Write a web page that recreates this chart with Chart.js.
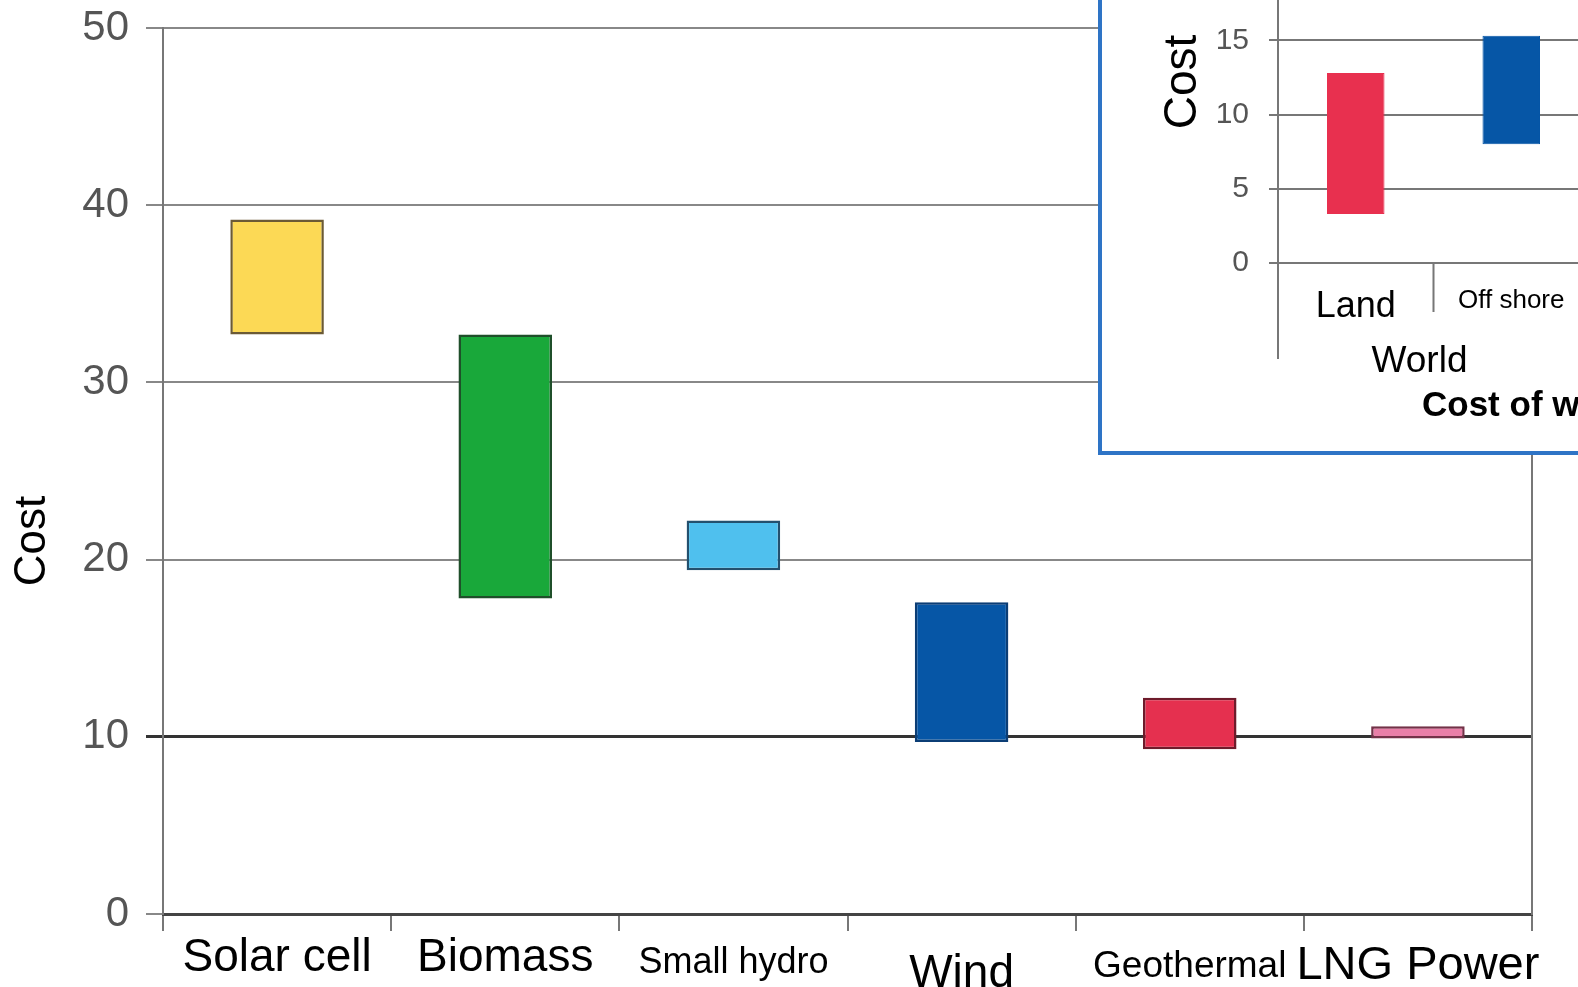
<!DOCTYPE html>
<html>
<head>
<meta charset="utf-8">
<title>Cost comparison</title>
<script src="https://cdn.jsdelivr.net/npm/chart.js@4.4.0/dist/chart.umd.min.js"></script>
<style>
    html, body { margin: 0; padding: 0; background: #fff; overflow: hidden; }
    #wrap { position: relative; width: 1578px; height: 987px; overflow: hidden; }
    #mainChart { position: absolute; left: 0; top: 0; }
    #inset { position: absolute; left: 1098px; top: -80px; width: 700px; height: 527px;
             border: 4px solid #2e74c6; background: #fff; }
</style>
</head>
<body>
<div id="wrap">
    <canvas id="mainChart" width="1578" height="987"></canvas>
    <div id="inset"><canvas id="windChart" width="700" height="527"></canvas></div>
</div>
<script>
// main chart data
const categories = ['Solar cell', 'Biomass', 'Small hydro', 'Wind', 'Geothermal', 'LNG Power'];
const costLow  = [32.7, 17.8, 19.4, 9.7, 9.3, 9.9];
const costHigh = [39.2, 32.7, 22.2, 17.6, 12.2, 10.6];
const barColors = ['#fcd955', '#19a83a', '#4fc0ee', '#0656a6', '#e5304f', '#e97fa8'];
const barEdges  = ['#6b5a35', '#1f4f2a', '#23506e', '#0b3d75', '#6e1b2b', '#733248'];
const labelSizes = [46, 46, 36, 46, 37, 47];
// line heights in px, so the labels sit on roughly the same baseline as the picture
const labelLines = [55, 55, 65, 86, 72, 71];

// inset (wind) data
const windCategories = ['Land', 'Off shore'];
const windLow  = [3.3, 8.0];
const windHigh = [12.8, 15.3];
const windColors = ['#e8304f', '#0656a6'];
const windLabelSizes = [36, 26];

Chart.defaults.font.family = '"Liberation Sans", Arial, sans-serif';

// y axis titles are not centred on the axis, so they are drawn here
const mainText = {
    id: 'mainText',
    afterDraw(chart) {
        const ctx = chart.ctx;
        ctx.save();
        ctx.fillStyle = '#000';
        ctx.font = '44px "Liberation Sans", Arial, sans-serif';
        ctx.textAlign = 'center';
        ctx.textBaseline = 'middle';
        ctx.translate(33, 541);
        ctx.rotate(-Math.PI / 2);
        ctx.fillText('Cost', 0, 0);
        ctx.restore();
    }
};

const insetText = {
    id: 'insetText',
    afterDraw(chart) {
        const ctx = chart.ctx;
        const area = chart.chartArea;
        const x = chart.scales.x;
        const mid = (x.getPixelForValue(0) + x.getPixelForValue(1)) / 2;
        ctx.save();
        ctx.strokeStyle = '#777';
        ctx.lineWidth = 2;
        ctx.beginPath();
        ctx.moveTo(area.left, area.bottom);
        ctx.lineTo(area.left, area.bottom + 96);
        ctx.moveTo(mid, area.bottom);
        ctx.lineTo(mid, area.bottom + 49);
        ctx.stroke();

        ctx.fillStyle = '#000';
        ctx.textAlign = 'center';
        ctx.textBaseline = 'middle';
        ctx.font = '37px "Liberation Sans", Arial, sans-serif';
        ctx.fillText('World', mid - 14, area.bottom + 99);

        ctx.textAlign = 'left';
        ctx.font = 'bold 35px "Liberation Sans", Arial, sans-serif';
        ctx.fillText('Cost of wind power', 320, area.bottom + 143);

        ctx.textAlign = 'center';
        ctx.font = '46px "Liberation Sans", Arial, sans-serif';
        ctx.translate(81, 158);
        ctx.rotate(-Math.PI / 2);
        ctx.fillText('Cost', 0, 0);
        ctx.restore();
    }
};

new Chart(document.getElementById('mainChart'), {
    type: 'bar',
    data: {
        labels: categories,
        datasets: [{
            data: categories.map((c, i) => [costLow[i], costHigh[i]]),
            backgroundColor: barColors,
            borderColor: barEdges,
            borderWidth: 2.5,
            borderSkipped: false,
            barPercentage: 0.41,
            categoryPercentage: 1
        }]
    },
    options: {
        responsive: false,
        animation: false,
        layout: { padding: { top: 28 } },
        plugins: { legend: { display: false }, tooltip: { enabled: false } },
        scales: {
            x: {
                grid: { drawOnChartArea: false, offset: true, tickLength: 17, color: '#777', lineWidth: 2 },
                border: { color: '#444', width: 3 },
                ticks: {
                    color: '#000',
                    padding: 0,
                    maxRotation: 0,
                    autoSkip: false,
                    font: ctx => ({ size: labelSizes[ctx.index], lineHeight: labelLines[ctx.index] / labelSizes[ctx.index] })
                },
                afterFit: s => { s.height = 73; }
            },
            y: {
                min: 0,
                max: 50,
                ticks: { stepSize: 10, color: '#555', padding: 17, font: { size: 42 } },
                grid: {
                    tickLength: 17,
                    color: ctx => ctx.tick.value === 10 ? '#333' : '#888',
                    lineWidth: ctx => ctx.tick.value === 10 ? 3 : 2
                },
                border: { color: '#777', width: 2 },
                afterFit: s => { s.width = 163; s.paddingTop = 0; s.paddingBottom = 0; }
            },
            y2: {
                position: 'right',
                min: 0,
                max: 50,
                ticks: { display: false },
                grid: { drawOnChartArea: false, drawTicks: false },
                border: { color: '#777', width: 2 },
                afterFit: s => { s.width = 46; }
            }
        }
    },
    plugins: [mainText]
});

new Chart(document.getElementById('windChart'), {
    type: 'bar',
    data: {
        labels: windCategories,
        datasets: [{
            data: windCategories.map((c, i) => [windLow[i], windHigh[i]]),
            backgroundColor: windColors,
            borderColor: windColors,
            borderWidth: 1,
            borderSkipped: false,
            barPercentage: 0.37,
            categoryPercentage: 1
        }]
    },
    options: {
        responsive: false,
        animation: false,
        layout: { padding: { top: 42, right: 213 } },
        plugins: { legend: { display: false }, tooltip: { enabled: false } },
        scales: {
            x: {
                grid: { display: false },
                border: { color: '#777', width: 2 },
                ticks: {
                    color: '#000',
                    padding: 14,
                    maxRotation: 0,
                    autoSkip: false,
                    font: ctx => ({ size: windLabelSizes[ctx.index] })
                },
                afterFit: s => { s.height = 188; }
            },
            y: {
                min: 0,
                max: 20,
                ticks: { stepSize: 5, color: '#555', padding: 20, font: { size: 30 } },
                grid: { tickLength: 9, color: '#777', lineWidth: 2 },
                border: { color: '#777', width: 2 },
                afterFit: s => { s.width = 176; s.paddingTop = 0; }
            }
        }
    },
    plugins: [insetText]
});
</script>
</body>
</html>
